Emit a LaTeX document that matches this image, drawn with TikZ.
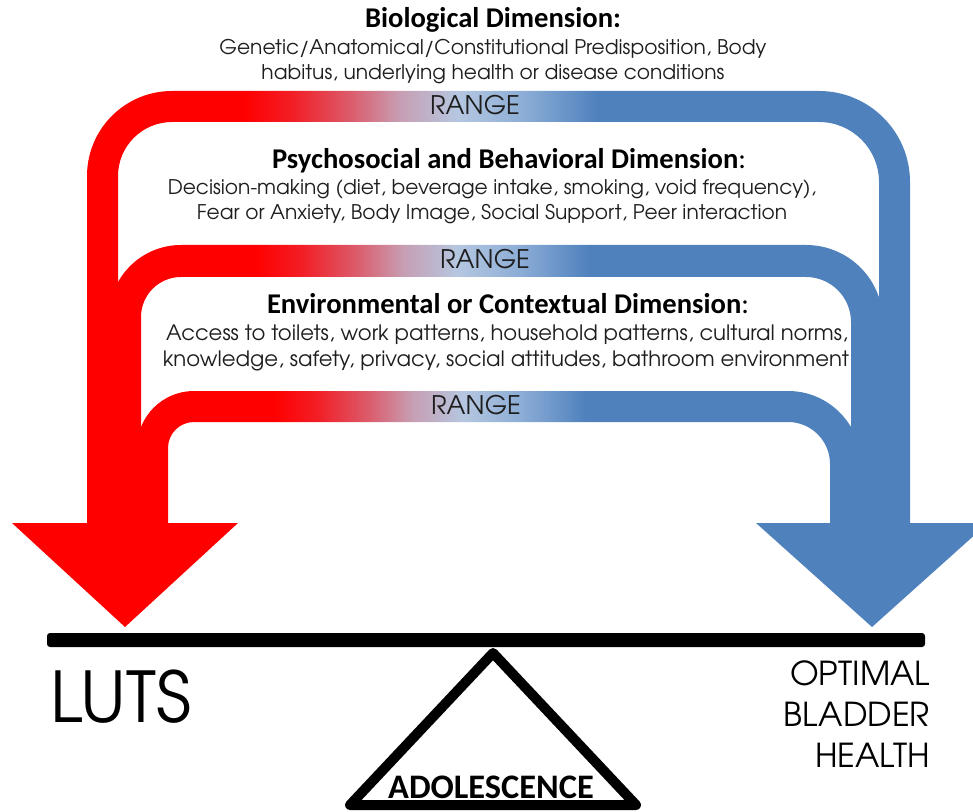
\documentclass[tikz,border=0pt]{standalone}
\usepackage{fontspec}
\newfontfamily\gothic{texgyreadventor}[Extension=.otf, UprightFont=*-regular, BoldFont=*-bold]
\newfontfamily\calib{Carlito}
\definecolor{arrowred}{RGB}{255,0,0}
\definecolor{arrowblue}{RGB}{79,129,189}
\definecolor{inktext}{RGB}{30,30,30}
% red -> pale blue -> blue, left to right (stops placed in the 25bp..75bp window)
\pgfdeclarehorizontalshading{rangegrad}{100bp}{%
  rgb(0bp)=(1,0,0); rgb(34.5bp)=(1,0,0);
  rgb(37.5bp)=(0.95,0.12,0.15); rgb(41bp)=(0.86,0.36,0.42);
  rgb(44bp)=(0.78,0.62,0.70); rgb(47.5bp)=(0.71,0.78,0.88);
  rgb(51.5bp)=(0.55,0.68,0.84); rgb(56bp)=(0.31,0.506,0.741);
  rgb(100bp)=(0.31,0.506,0.741)}
% arch band: #1 left x, #2 right x, #3 top y, #4 thickness,
% #5 inner radius left, #6 inner radius right, #7 bottom y
\newcommand\rangeband[7]{%
  \path[shading=rangegrad]
    (#1,#7) -- (#1,{#3+#5+#4})
    .. controls (#1,{#3+0.4477*(#5+#4)}) and ({#1+0.4477*(#5+#4)},#3) .. ({#1+#5+#4},#3)
    -- ({#2-#6-#4},#3)
    .. controls ({#2-0.4477*(#6+#4)},#3) and (#2,{#3+0.4477*(#6+#4)}) .. (#2,{#3+#6+#4})
    -- (#2,#7) -- ({#2-#4},#7) -- ({#2-#4},{#3+#4+#6})
    .. controls ({#2-#4},{#3+#4+0.4477*#6}) and ({#2-#4-0.4477*#6},{#3+#4}) .. ({#2-#4-#6},{#3+#4})
    -- ({#1+#4+#5},{#3+#4})
    .. controls ({#1+#4+0.4477*#5},{#3+#4}) and ({#1+#4},{#3+#4+0.4477*#5}) .. ({#1+#4},{#3+#4+#5})
    -- ({#1+#4},#7) -- cycle;}
\begin{document}
\begin{tikzpicture}[x=0.5pt,y=-0.5pt,
  every node/.style={inner sep=0pt, outer sep=0pt},
  dimtitle/.style={font=\calib\bfseries\fontsize{14.3}{16}\selectfont, text=black, anchor=base},
  dimbody/.style={font=\gothic\fontsize{10.1}{12}\selectfont, text=inktext, anchor=base},
  rangelabel/.style={font=\gothic\fontsize{12.8}{14}\selectfont, text=inktext, anchor=base},
  sidelabel/.style={font=\gothic\fontsize{16.5}{18}\selectfont, text=black, anchor=base east}]
\useasboundingbox (0,0) rectangle (973,812);
\clip (0,0) rectangle (973,812);
\fill[white] (0,0) rectangle (973,812);

% three arch bands
\rangeband{87}{910}{91}{31}{54}{60}{530}
\rangeband{109}{883}{245}{32}{40}{45}{530}
\rangeband{137}{861}{391}{31}{26}{42}{530}

% arrow heads
\fill[arrowred] (12,523) coordinate (lhl) -- (238,523) coordinate (lhr) -- (125,627) coordinate (ltip) -- cycle;
\fill[arrowblue] (756,523) coordinate (rhl) -- (988,523) coordinate (rhr) -- (872,627) coordinate (rtip) -- cycle;

% balance beam and fulcrum
\fill[black, rounded corners=1.5pt] (47,633) rectangle (925,647);
\coordinate (apex) at (493,653);
\coordinate (baseL) at (350,805);
\coordinate (baseR) at (636,805);
\draw[line width=5pt, line join=round] (baseL) -- (apex) -- (baseR) -- cycle;
\node[font=\calib\bfseries\fontsize{17.2}{20}\selectfont, anchor=base] (adol) at (491,798) {ADOLESCENCE};

% dimension texts
\node[dimtitle] (biot) at (493,28) {Biological Dimension:};
\node[dimbody] (bio1) at (493,55) {Genetic/Anatomical/Constitutional Predisposition, Body};
\node[dimbody] (bio2) at (493,80) {habitus, underlying health or disease conditions};
\node[rangelabel] (r1) at (475,115) {RANGE};

\node[dimtitle] (psyt) at (509,169) {Psychosocial and Behavioral Dimension\mdseries:};
\node[dimbody] (psy1) at (492,195) {Decision-making (diet, beverage intake, smoking, void frequency),};
\node[dimbody] (psy2) at (492,220) {Fear or Anxiety, Body Image, Social Support, Peer interaction};
\node[rangelabel] (r2) at (485,269) {RANGE};

\node[dimtitle] (envt) at (508,314) {Environmental or Contextual Dimension\mdseries:};
\node[dimbody, font=\gothic\fontsize{10.6}{12}\selectfont] (env1) at (507,341) {Access to toilets, work patterns, household patterns, cultural norms,};
\node[dimbody, font=\gothic\fontsize{10.6}{12}\selectfont] (env2) at (506,366) {knowledge, safety, privacy, social attitudes, bathroom environment};
\node[rangelabel] (r3) at (476,414) {RANGE};

% outcome labels
\node[font=\gothic\fontsize{35}{40}\selectfont, anchor=base west] (luts) at (50,722) {LUTS};
\node[sidelabel] (obh1) at (930,685) {OPTIMAL};
\node[sidelabel] (obh2) at (930,726) {BLADDER};
\node[sidelabel] (obh3) at (930,767) {HEALTH};
\end{tikzpicture}
\end{document}
